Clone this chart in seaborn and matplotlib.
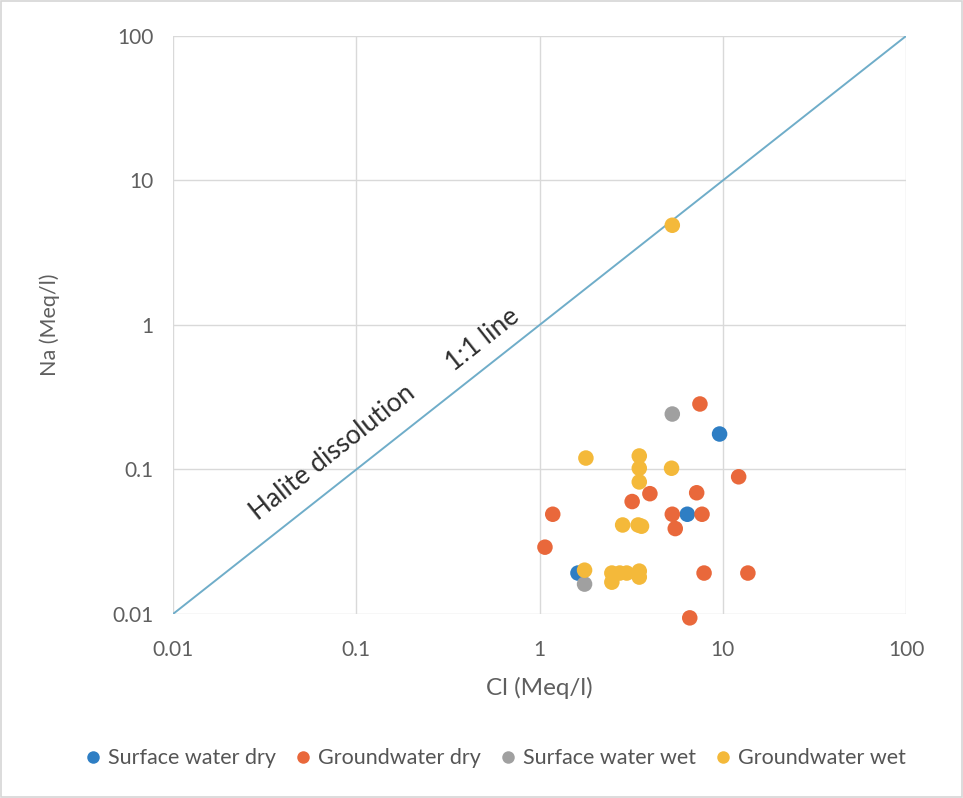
import numpy as np
import pandas as pd
import matplotlib
matplotlib.use("Agg")
import matplotlib.pyplot as plt
from matplotlib.lines import Line2D
from matplotlib.patches import Rectangle
from matplotlib.ticker import FixedLocator, FixedFormatter, NullLocator
import seaborn as sns

# Series definitions
series_names = ["Surface water dry", "Groundwater dry", "Surface water wet", "Groundwater wet"]
series_colors = ["#2E7EC4", "#E9683B", "#A0A0A0", "#F4B93A"]

# Cl and Na concentrations (Meq/l)
sw_dry_cl = [9.6, 6.4, 1.62]
sw_dry_na = [0.176, 0.049, 0.0192]

gw_dry_cl = [7.5, 12.2, 7.2, 4.0, 3.2, 1.18, 5.3, 7.7, 5.5, 1.07, 7.9, 13.7, 6.6]
gw_dry_na = [0.284, 0.089, 0.069, 0.068, 0.060, 0.049, 0.049, 0.049, 0.039, 0.029,
             0.0192, 0.0192, 0.0094]

sw_wet_cl = [5.3, 1.76]
sw_wet_na = [0.242, 0.0161]

gw_wet_cl = [5.3, 1.79, 3.5, 3.5, 3.5, 5.25, 2.84, 3.45, 3.6, 1.76,
             2.48, 2.74, 2.99, 2.48, 3.5, 3.5]
gw_wet_na = [4.9, 0.120, 0.124, 0.102, 0.082, 0.102, 0.0413, 0.0413, 0.0405, 0.0201,
             0.0192, 0.0192, 0.0192, 0.0166, 0.0198, 0.0180]

tick_values = [0.01, 0.1, 1, 10, 100]
tick_labels = ["0.01", "0.1", "1", "10", "100"]

frames = []
for name, cl, na in zip(series_names,
                        [sw_dry_cl, gw_dry_cl, sw_wet_cl, gw_wet_cl],
                        [sw_dry_na, gw_dry_na, sw_wet_na, gw_wet_na]):
    frames.append(pd.DataFrame({"Cl": cl, "Na": na, "Series": name}))
df = pd.concat(frames, ignore_index=True)

sns.set_theme(style="white")
plt.rcParams["font.family"] = ["Lato", "DejaVu Sans"]

fig = plt.figure(figsize=(9.63, 7.98), dpi=100)
fig.patch.set_facecolor("white")
ax = fig.add_axes([0.1797, 0.2306, 0.7612, 0.7243])

ax.set_xscale("log")
ax.set_yscale("log")
ax.set_xlim(0.01, 100)
ax.set_ylim(0.01, 100)

# grid
for v in tick_values:
    ax.axvline(v, color="#d9d9d9", lw=1.0, zorder=0)
    ax.axhline(v, color="#d9d9d9", lw=1.0, zorder=0)

# 1:1 reference line
ax.plot(tick_values, tick_values, color="#6FADC9", lw=1.4, zorder=1)

sns.scatterplot(data=df, x="Cl", y="Na", hue="Series", hue_order=series_names,
                palette=series_colors, s=125, edgecolor="none", linewidth=0,
                legend=False, ax=ax, zorder=3, clip_on=False)

for sp in ax.spines.values():
    sp.set_visible(False)

ax.xaxis.set_major_locator(FixedLocator(tick_values))
ax.xaxis.set_major_formatter(FixedFormatter(tick_labels))
ax.yaxis.set_major_locator(FixedLocator(tick_values))
ax.yaxis.set_major_formatter(FixedFormatter(tick_labels))
ax.xaxis.set_minor_locator(NullLocator())
ax.yaxis.set_minor_locator(NullLocator())
ax.tick_params(axis="x", length=0, pad=19, labelsize=15, labelcolor="#5f5f5f")
ax.tick_params(axis="y", length=0, pad=14, labelsize=15, labelcolor="#5f5f5f")

ax.set_xlabel("Cl (Meq/l)", fontsize=17.5, color="#5f5f5f", labelpad=12)
ax.set_ylabel("Na (Meq/l)", fontsize=15.5, color="#5f5f5f", labelpad=38)

# annotations along the 1:1 line
angle = np.degrees(np.arctan(0.7243 * 7.98 / (0.7612 * 9.63)))
ax.text(0.0745, 0.13, "Halite dissolution", rotation=angle, ha="center", va="center",
        fontsize=19, color="#2e2e2e", rotation_mode="anchor")
ax.text(0.49, 0.79, "1:1 line", rotation=angle, ha="center", va="center",
        fontsize=19, color="#2e2e2e", rotation_mode="anchor")

handles = [Line2D([0], [0], marker="o", linestyle="none", markersize=9,
                  markerfacecolor=c, markeredgecolor="none") for c in series_colors]
fig.legend(handles, series_names, loc="center", bbox_to_anchor=(0.515, 0.05), ncol=4,
           frameon=False, fontsize=15.5, handlelength=0.6, handletextpad=0.4,
           columnspacing=0.95, labelcolor="#555555")

fig.add_artist(Rectangle((0.001, 0.001), 0.998, 0.998, transform=fig.transFigure,
                         fill=False, edgecolor="#d6d6d6", lw=1.2))

fig.savefig("out.png", dpi=100)
